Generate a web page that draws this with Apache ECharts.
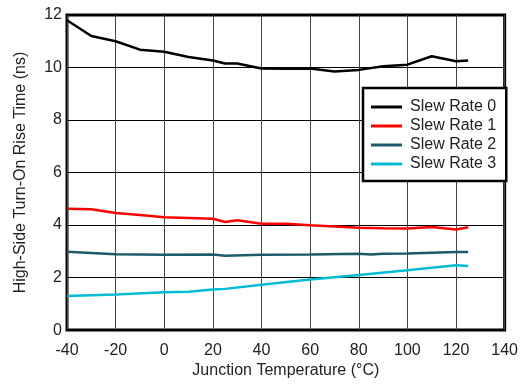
<!DOCTYPE html>
<html><head><meta charset="utf-8">
<script src="https://cdn.jsdelivr.net/npm/echarts@6/dist/echarts.min.js"></script>
<style>html,body{margin:0;padding:0;background:#fff}#c{width:521px;height:384px}</style>
</head><body><div id="c"></div>
<script>
var temps0 = [-40,-30,-20,-10,0,10,20,25,30,40,50,60,70,80,90,100,110,120,125];
var slew0 = [11.8,11.2,11.0,10.68,10.6,10.4,10.27,10.15,10.15,9.96,9.95,9.96,9.85,9.91,10.05,10.11,10.43,10.24,10.27];
var temps1 = [-40,-30,-20,-10,0,10,20,25,30,40,50,60,70,80,90,100,110,120,125];
var slew1 = [4.62,4.6,4.46,4.38,4.3,4.27,4.24,4.12,4.18,4.05,4.05,3.99,3.95,3.9,3.88,3.87,3.93,3.83,3.92];
var temps2 = [-40,-20,0,20,25,40,60,80,85,90,100,120,125];
var slew2 = [2.98,2.89,2.87,2.88,2.83,2.87,2.88,2.91,2.88,2.91,2.92,2.97,2.97];
var temps3 = [-40,-20,0,10,20,25,40,60,80,100,120,125];
var slew3 = [1.3,1.36,1.44,1.46,1.55,1.57,1.73,1.93,2.1,2.28,2.47,2.44];
var names = ['Slew Rate 0','Slew Rate 1','Slew Rate 2','Slew Rate 3'];
var colors = ['#000000','#ff0000','#1d5a6a','#00bcd4'];
var xTicks = [-40,-20,0,20,40,60,80,100,120,140];
var yTicks = [0,2,4,6,8,10,12];

function pairs(xs, ys){ return xs.map(function(x,i){ return [x, ys[i]]; }); }
var seriesData = [pairs(temps0,slew0), pairs(temps1,slew1), pairs(temps2,slew2), pairs(temps3,slew3)];

var chart = echarts.init(document.getElementById('c'), null, {renderer:'canvas'});
var font = 'Liberation Sans, Arial, sans-serif';
chart.setOption({
  animation:false,
  grid:{left:67,right:16,top:15,bottom:52,show:true,borderColor:'#000',borderWidth:3,backgroundColor:'transparent'},
  xAxis:{type:'value',min:xTicks[0],max:xTicks[xTicks.length-1],interval:20,
    name:'Junction Temperature (°C)',nameLocation:'middle',nameGap:32,
    nameTextStyle:{fontFamily:font,fontSize:16,color:'#222'},
    axisLine:{show:false},axisTick:{show:false},
    axisLabel:{fontFamily:font,fontSize:16,color:'#222',margin:12},
    splitLine:{show:true,lineStyle:{color:'#444',width:1}}},
  yAxis:{type:'value',min:yTicks[0],max:yTicks[yTicks.length-1],interval:2,
    name:'High-Side Turn-On Rise Time (ns)',nameLocation:'middle',nameGap:38,
    nameTextStyle:{fontFamily:font,fontSize:16,color:'#222'},
    axisLine:{show:false},axisTick:{show:false},
    axisLabel:{fontFamily:font,fontSize:16,color:'#222',margin:5},
    splitLine:{show:true,lineStyle:{color:'#000',width:1}}},
  legend:{orient:'vertical',left:363,top:88,
    backgroundColor:'#fff',borderColor:'#000',borderWidth:2.5,borderRadius:0,
    padding:[11,10,9,8],itemGap:3,itemWidth:31,itemHeight:3,icon:'rect',
    textStyle:{fontFamily:font,fontSize:16,color:'#222',lineHeight:16,padding:[0,0,0,3]},
    data:names},
  series: names.map(function(n,i){
    return {name:n,type:'line',data:seriesData[i],showSymbol:false,symbol:'none',
      lineStyle:{color:colors[i],width:2.5},itemStyle:{color:colors[i]},z:3};
  })
});
</script></body></html>
